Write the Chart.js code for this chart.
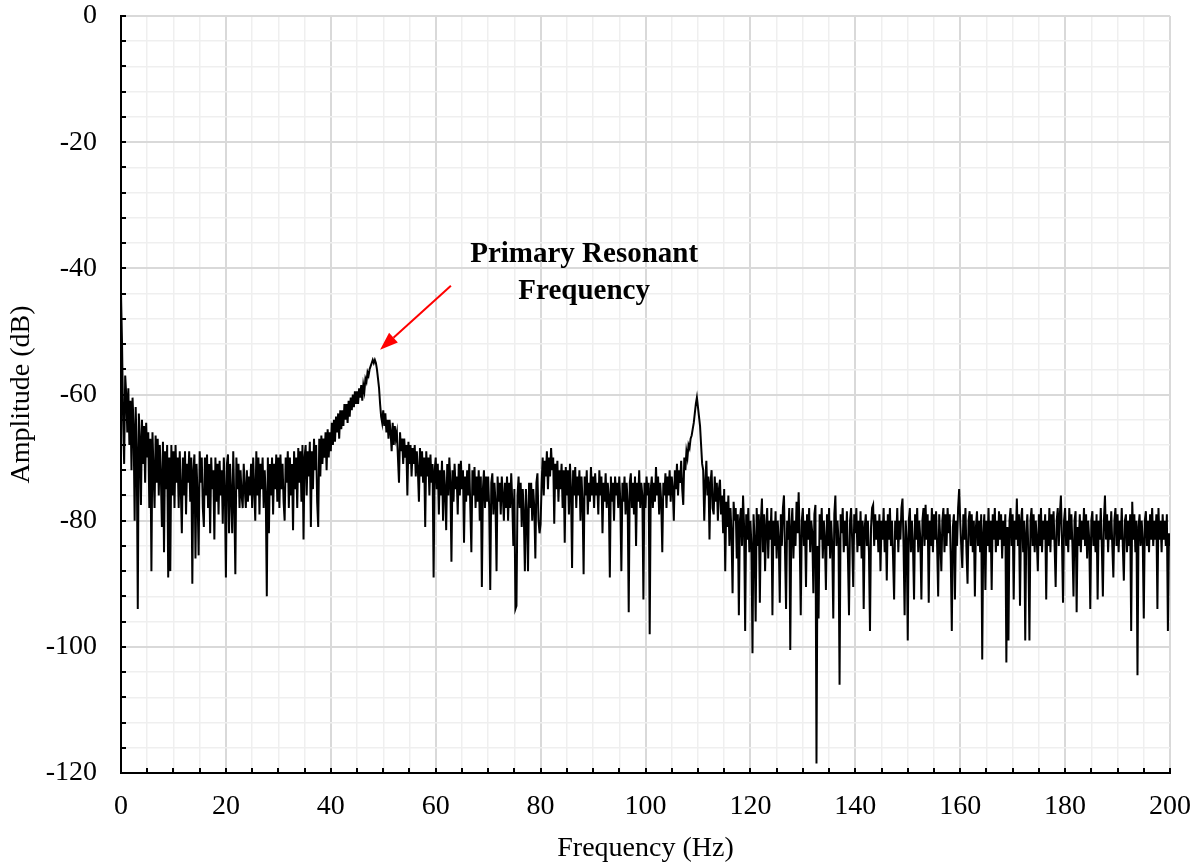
<!DOCTYPE html>
<html lang="en">
<head>
  <meta charset="UTF-8">
  <title>Amplitude Spectrum</title>
  <script src="https://cdn.jsdelivr.net/npm/chart.js"></script>
  <style>
    body {
      margin: 0;
      background: #fff;
    }
    #wrap {
      width: 1199px;
      height: 863px;
    }
  </style>
</head>
<body>

<div id="wrap"><canvas id="spectrumChart" width="1199" height="863"></canvas></div>

<script>
  // spectrum, one value every 0.2 Hz
  const FREQ_STEP = 0.2;

  const amp0to40 = [
    -44, -52, -64, -71, -57, -60, -66, -59, -68, -61,
    -72, -60.5, -65, -80, -62, -69, -94, -63, -67, -77.5,
    -64, -71, -65, -74, -64.5, -70, -66, -78, -67, -88,
    -66, -72, -78, -66.5, -74, -67, -76, -68, -73, -81,
    -67.5, -85, -69, -75, -68, -89, -70, -88, -68, -76,
    -69, -78, -68, -74, -70, -78, -69, -75, -82, -70,
    -76, -69, -79, -71, -74, -69, -77, -70, -90, -72,
    -69.5, -86, -71, -76, -85.5, -69, -74, -70, -78, -81,
    -70, -76, -69.5, -78, -71, -82, -70, -75, -72, -83,
    -70, -77, -71, -79, -70.5, -76, -72, -80.5, -70, -75,
    -89, -71, -69.5, -82, -71, -76, -82, -69, -77, -88.5,
    -70, -75, -71, -78, -72, -76, -78, -71, -75, -78,
    -72, -77, -73, -76, -71, -78, -70, -75, -80, -69,
    -76, -70, -79, -71, -75, -70, -78, -72, -76, -92,
    -70, -82, -71, -76, -70, -79, -71, -75, -69.5, -77,
    -70, -78, -69.5, -75, -71, -77, -80, -70, -74, -69,
    -78, -70, -76, -71, -81.5, -69, -75, -70, -78, -68.5,
    -74, -69, -77, -68, -83, -70, -68, -76, -69, -73,
    -67.5, -81, -69, -75, -67, -72, -68, -77, -81, -67,
    -73, -66.5, -71, -67, -70, -66, -72, -65.5, -70, -66
  ];
  const amp40to80 = [
    -69, -64.5, -68, -64, -67.5, -63.5, -66, -63, -67, -62.5,
    -65.5, -62.5, -65, -61.5, -64, -61.5, -64.5, -61, -63.5, -60.5,
    -62.5, -60, -62, -59.5, -61.5, -59.5, -61.5, -59, -60.5, -58.5,
    -61, -58.5, -59.5, -57.5, -58, -56.5, -57, -56, -55.5, -55,
    -54.5, -55, -54.5, -55, -56, -57.5, -59, -61.5, -63.5, -64.5,
    -62.5, -65, -63, -66, -64, -67, -64, -66, -69, -64.5,
    -68, -65, -67, -66, -70, -74, -66, -69, -67, -71,
    -67, -70, -68, -76, -67.5, -71, -68, -73, -68.5, -71,
    -68, -73, -69, -72, -77, -68.5, -73, -69, -74, -70,
    -81, -69, -73, -70, -76, -69.5, -74, -71, -89, -72,
    -70, -75, -71, -79, -72, -76, -70.5, -80, -72, -75,
    -81.5, -71, -76, -70, -74, -86.5, -72, -77, -71, -75,
    -73, -79, -71, -76, -70.5, -75, -72, -83.5, -73, -77,
    -72, -76, -71, -78, -85, -72, -76, -71.5, -78, -73,
    -77, -72, -80, -73, -90.5, -75, -72, -78, -73, -77,
    -73, -78, -91, -74, -72.5, -79, -74, -77, -88, -73,
    -77, -74, -79, -73, -76, -80, -74, -78, -73, -80,
    -74, -78, -72.5, -77, -84, -75, -94, -93.5, -76, -73,
    -78, -74, -81, -75, -79, -88, -75, -79, -88, -74,
    -78, -74, -80, -75, -78, -86, -74, -72.5, -80, -82
  ];
  const amp80to120 = [
    -80.5, -74, -70, -76, -70.5, -73, -69, -75, -70, -73,
    -68.5, -72, -70, -80.5, -71, -75, -70.5, -77, -72, -75,
    -71, -78, -72, -83.5, -71.5, -76, -72, -79, -71, -75,
    -87.5, -72, -76, -71.5, -78, -73, -76, -72, -80, -73,
    -77, -88.5, -73, -76, -72, -79, -74, -77, -71.5, -76,
    -73, -78, -72.5, -76, -74, -79, -72, -76, -73, -82,
    -74, -77, -72.5, -78, -74, -76, -89, -73, -77, -74,
    -80, -73, -76, -74, -78, -73, -77, -88, -74, -77,
    -73, -79, -74, -77, -94.5, -74, -72.5, -78, -74, -79,
    -73, -84, -74, -77, -72, -78, -74, -76, -92.5, -74,
    -78, -73, -76, -74, -98, -75, -73, -78, -74, -77,
    -71.5, -76, -73, -79, -74, -77, -85, -74, -76, -72.5,
    -78, -73, -76, -72, -77, -73, -75, -80, -72, -75,
    -71, -76, -72, -74, -70.5, -75, -77.5, -70, -72, -69,
    -70, -68, -68.5, -67, -66.5, -65.5, -64.5, -63, -61.5, -60.5,
    -62, -63.5, -65, -68, -71, -72, -80, -74, -70.5, -76,
    -73, -83, -74, -72, -78, -79, -73, -77, -74, -80,
    -75, -73.5, -79, -76, -82, -75, -88, -77, -81, -76,
    -84, -78, -82, -91.5, -77, -80, -78, -86, -79, -95,
    -80, -78, -84, -76, -81, -97.5, -79, -83, -78, -85
  ];
  const amp120to160 = [
    -80, -84, -101, -79, -83, -96, -78, -84, -79, -93,
    -80, -76.5, -85, -79, -88, -81, -78, -86, -80, -83,
    -78, -95, -80, -84, -78.5, -86, -80, -83, -93, -79,
    -84, -78, -76, -85, -94, -80, -83, -78, -100.5, -81,
    -78, -86, -80, -84, -77, -82, -75.5, -83, -95, -80,
    -78, -84, -80, -90.5, -79, -83, -78, -85, -80, -82,
    -91.5, -79, -77.5, -118.5, -84, -95.5, -79, -83, -78, -86,
    -80, -83, -91, -79, -84, -78, -86, -80, -84, -95.5,
    -79, -76, -84, -80, -83, -106, -79, -82, -78, -85,
    -80, -84, -78.5, -86, -95, -80, -78, -83, -90.5, -79,
    -82, -78, -85, -80, -84, -78.5, -86, -80, -94, -81,
    -79, -84, -80, -85, -97.5, -81, -78, -77.5, -84, -79,
    -83, -80, -85, -79, -88, -80, -83, -78, -85, -80,
    -89.5, -79, -83, -78, -84, -80, -86, -92.5, -80, -83,
    -78, -85, -80, -83, -78, -76.5, -84, -95, -80, -83,
    -99, -80, -78, -85, -80, -84, -92.5, -79, -83, -78,
    -85, -80, -83, -92.5, -80, -78, -84, -77.5, -83, -79,
    -93, -80, -84, -78, -85, -79, -83, -78.5, -84, -92,
    -79, -83, -88, -80, -78, -85, -79, -84, -78, -82,
    -79, -86, -97.5, -81, -79, -92.5, -80, -84, -78, -75
  ];
  const amp160to200 = [
    -80, -84, -87.5, -79, -83, -78, -85, -90, -80, -78.5,
    -84, -79, -85, -80, -92, -81, -78.5, -84, -80, -85,
    -79, -102, -82, -79, -91, -80, -84, -78, -85, -80,
    -91, -79, -83, -78, -85, -80, -84, -78.5, -83, -79,
    -86, -80, -84, -79, -102.5, -81, -99, -80, -78, -84,
    -79, -92.5, -80, -83, -76.5, -84, -79, -93.5, -80, -78,
    -85, -80, -99, -82, -79, -85, -99, -80, -78, -84,
    -79, -85, -80, -83, -88, -79, -84, -78, -85, -80,
    -83, -79, -92.5, -80, -84, -78, -85, -79, -83, -78.5,
    -84, -90.5, -80, -78, -84, -79, -76, -83, -93, -80,
    -78, -84, -80, -85, -78, -83, -79, -84, -92, -80,
    -78.5, -94.5, -81, -84, -79, -85, -80, -83, -78, -84,
    -79, -86, -80, -83, -94, -80, -78.5, -84, -80, -85,
    -79, -92.5, -80, -83, -78, -84, -92, -80, -76, -83,
    -79, -85, -80, -83, -78.5, -84, -89, -80, -78, -84,
    -79, -85, -80, -83, -78, -84, -89.5, -80, -79, -85,
    -80, -84, -79, -97.5, -77, -83, -79, -85, -80, -104.5,
    -81, -79, -84, -80, -83, -95.5, -80, -78.5, -84, -80,
    -85, -79, -83, -78, -84, -80, -83, -79, -94, -78,
    -83, -80, -85, -79, -83, -80, -84, -79, -97.5, -82,
    -84
  ];

  const xTickLabels = [0, 20, 40, 60, 80, 100, 120, 140, 160, 180, 200];
  const yTickLabels = [0, -20, -40, -60, -80, -100, -120];

  const amplitude = [].concat(amp0to40, amp40to80, amp80to120, amp120to160, amp160to200);
  const points = amplitude.map((a, i) => ({ x: +(i * FREQ_STEP).toFixed(1), y: a }));

  const SERIF = "'Liberation Serif', 'Times New Roman', serif";
  Chart.defaults.font.family = SERIF;
  Chart.defaults.color = "#000";

  // tick marks sit inside the plot area in the original
  const insideTicks = {
    id: "insideTicks",
    afterDatasetsDraw(chart) {
      const { ctx, chartArea: area, scales } = chart;
      ctx.save();
      ctx.strokeStyle = "#000";
      ctx.lineWidth = 2;
      ctx.beginPath();
      scales.x.ticks.forEach(t => {
        const px = Math.round(scales.x.getPixelForValue(t.value));
        ctx.moveTo(px, area.bottom);
        ctx.lineTo(px, area.bottom - 5);
      });
      scales.y.ticks.forEach(t => {
        const py = Math.round(scales.y.getPixelForValue(t.value));
        ctx.moveTo(area.left, py);
        ctx.lineTo(area.left + 5, py);
      });
      ctx.stroke();
      ctx.restore();
    }
  };

  // "Primary Resonant Frequency" note with red arrow
  const resonanceNote = {
    id: "resonanceNote",
    afterDatasetsDraw(chart) {
      const { ctx, scales: { x, y } } = chart;
      ctx.save();
      ctx.fillStyle = "#000";
      ctx.font = "bold 29px " + SERIF;
      ctx.textAlign = "center";
      ctx.textBaseline = "middle";
      ctx.fillText("Primary Resonant", x.getPixelForValue(88.3), y.getPixelForValue(-37.8));
      ctx.fillText("Frequency", x.getPixelForValue(88.3), y.getPixelForValue(-43.7));

      const x0 = x.getPixelForValue(62.9), y0 = y.getPixelForValue(-42.75);
      const x1 = x.getPixelForValue(49.4), y1 = y.getPixelForValue(-52.9);
      const ang = Math.atan2(y1 - y0, x1 - x0);
      const headLen = 18, headW = 6.5;
      const bx = x1 - headLen * Math.cos(ang), by = y1 - headLen * Math.sin(ang);
      ctx.strokeStyle = "#ff0000";
      ctx.fillStyle = "#ff0000";
      ctx.lineWidth = 2;
      ctx.beginPath();
      ctx.moveTo(x0, y0);
      ctx.lineTo(bx, by);
      ctx.stroke();
      ctx.beginPath();
      ctx.moveTo(x1, y1);
      ctx.lineTo(bx + headW * Math.sin(ang), by - headW * Math.cos(ang));
      ctx.lineTo(bx - headW * Math.sin(ang), by + headW * Math.cos(ang));
      ctx.closePath();
      ctx.fill();
      ctx.restore();
    }
  };

  const gridColor = c => c.tick && c.tick.value % 20 === 0 ? "#d9d9d9" : "#efefef";
  const gridWidth = c => c.tick && c.tick.value % 20 === 0 ? 2 : 1.5;

  const ctx = document.getElementById("spectrumChart").getContext("2d");
  new Chart(ctx, {
    type: "line",
    data: {
      datasets: [{
        label: "Amplitude",
        data: points,
        borderColor: "#000",
        borderWidth: 2,
        pointRadius: 0,
        tension: 0,
        fill: false
      }]
    },
    options: {
      responsive: false,
      animation: false,
      devicePixelRatio: 1,
      layout: { padding: { top: 16, right: 29, left: 0, bottom: 0 } },
      plugins: {
        legend: { display: false },
        tooltip: { enabled: false }
      },
      scales: {
        x: {
          type: "linear",
          min: 0,
          max: 200,
          afterFit(scale) {
            scale.height = 90;
            scale.paddingLeft = 0;
            scale.paddingRight = 0;
          },
          ticks: {
            stepSize: 5,
            autoSkip: false,
            maxRotation: 0,
            padding: 17,
            font: { size: 28 },
            callback: v => xTickLabels.includes(v) ? String(v) : ""
          },
          grid: { drawTicks: false, color: gridColor, lineWidth: gridWidth },
          border: { display: true, color: "#000", width: 2 },
          title: {
            display: true,
            text: "Frequency (Hz)",
            font: { size: 28, lineHeight: 1 },
            padding: { top: 0, bottom: 0 }
          }
        },
        y: {
          min: -120,
          max: 0,
          afterFit(scale) {
            scale.width = 121;
            scale.paddingTop = 0;
            scale.paddingBottom = 0;
          },
          ticks: {
            stepSize: 4,
            autoSkip: false,
            padding: 24,
            font: { size: 28 },
            callback: v => yTickLabels.includes(v) ? String(v) : ""
          },
          grid: { drawTicks: false, color: gridColor, lineWidth: gridWidth },
          border: { display: true, color: "#000", width: 2 },
          title: {
            display: true,
            text: "Amplitude (dB)",
            font: { size: 28, lineHeight: 1 },
            padding: { top: 8, bottom: 0 }
          }
        }
      }
    },
    plugins: [insideTicks, resonanceNote]
  });
</script>

</body>
</html>
